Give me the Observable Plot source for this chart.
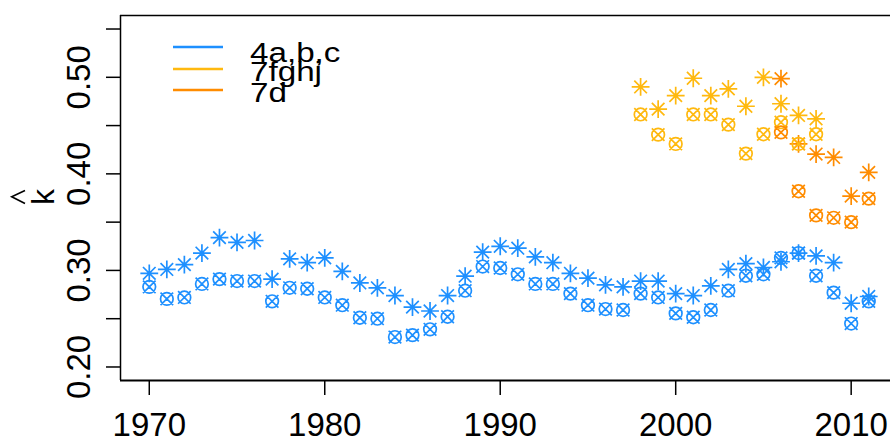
<!DOCTYPE html>
<html><head><meta charset="utf-8">
<script src="https://cdn.jsdelivr.net/npm/d3@7"></script>
<script src="https://cdn.jsdelivr.net/npm/@observablehq/plot@0.6"></script>
<style>body{margin:0;background:#fff} svg{display:block}</style>
</head><body><div id="chart"></div>
<script>
// ---- data ----
const years4abc = [1970,1971,1972,1973,1974,1975,1976,1977,1978,1979,1980,1981,1982,1983,1984,1985,1986,1987,1988,1989,1990,1991,1992,1993,1994,1995,1996,1997,1998,1999,2000,2001,2002,2003,2004,2005,2006,2007,2008,2009,2010,2011];
const k4abcStar = [0.297,0.301,0.306,0.318,0.334,0.329,0.331,0.291,0.312,0.308,0.313,0.299,0.287,0.282,0.274,0.262,0.258,0.274,0.294,0.319,0.325,0.323,0.314,0.308,0.297,0.292,0.285,0.283,0.289,0.289,0.276,0.274,0.284,0.301,0.307,0.303,0.309,0.318,0.315,0.308,0.266,0.273];
const k4abcCirc = [0.283,0.2705,0.272,0.286,0.291,0.289,0.289,0.268,0.282,0.281,0.272,0.264,0.251,0.250,0.231,0.233,0.239,0.252,0.279,0.304,0.3025,0.296,0.286,0.286,0.276,0.264,0.260,0.259,0.276,0.272,0.2555,0.2515,0.259,0.279,0.2945,0.296,0.313,0.318,0.2945,0.277,0.245,0.268];
const years7fghj = [1998,1999,2000,2001,2002,2003,2004,2005,2006,2007,2008];
const k7fghjStar = [0.490,0.467,0.481,0.499,0.481,0.488,0.470,0.500,0.4726,0.4605,0.457];
const k7fghjCirc = [0.4615,0.4406,0.431,0.4615,0.4615,0.451,0.421,0.441,0.4535,0.431,0.441];
const years7d = [2006,2007,2008,2009,2010,2011];
const k7dStar = [0.4986,0.431,0.4205,0.417,0.377,0.4015];
const k7dCirc = [0.443,0.382,0.357,0.3545,0.350,0.3744];

const seriesNames = ["4a,b,c","7fghj","7d"];
const seriesColors = ["#1E90FF","#FFB90F","#FF8C00"];
const xTicks = [1970,1980,1990,2000,2010];
const yTicks = [0.20,0.25,0.30,0.35,0.40,0.45,0.50,0.55];
const yLabelTicks = [0.20,0.30,0.40,0.50];
const yLim = [0.20,0.55];

// ---- build table ----
function rows(years, star, circ, name){
  return years.map((yr,i)=>({year:yr, star:star[i], circ:circ[i], series:name}));
}
const data = [
  ...rows(years4abc,k4abcStar,k4abcCirc,seriesNames[0]),
  ...rows(years7fghj,k7fghjStar,k7fghjCirc,seriesNames[1]),
  ...rows(years7d,k7dStar,k7dCirc,seriesNames[2])
];

// R-like 4% axis padding
const xmin = d3.min(years4abc), xmax = d3.max(years4abc);
const xpad = 0.04*(xmax-xmin);
const xDomain = [xmin-xpad, xmax+xpad];
const ypad = 0.04*(yLim[1]-yLim[0]);
const yDomain = [yLim[0]-ypad, yLim[1]+ypad];

// R pch 8 (asterisk) and pch 13 (circle with x)
const pch8 = {draw(ctx,size){
  const xc = Math.sqrt(size/Math.PI), s = xc*Math.SQRT2;
  ctx.moveTo(-xc,-xc); ctx.lineTo(xc,xc);
  ctx.moveTo(-xc,xc); ctx.lineTo(xc,-xc);
  ctx.moveTo(-s,0); ctx.lineTo(s,0);
  ctx.moveTo(0,-s); ctx.lineTo(0,s);
}};
const pch13 = {draw(ctx,size){
  const xc = Math.sqrt(size/Math.PI);
  ctx.moveTo(xc,0); ctx.arc(0,0,xc,0,2*Math.PI);
  ctx.moveTo(-xc,-xc); ctx.lineTo(xc,xc);
  ctx.moveTo(-xc,xc); ctx.lineTo(xc,-xc);
}};

const W = 890, H = 440, ML = 120, MT = 15, MB = 60;
const font = "'Liberation Sans', Arial, Helvetica, sans-serif";

const plot = Plot.plot({
  width: W, height: H,
  marginLeft: ML, marginTop: MT, marginBottom: MB, marginRight: 0,
  style: {fontFamily: font, color: "black", background: "white"},
  x: {domain: xDomain, range: [ML, ML + 777], label: null},
  y: {domain: yDomain, label: null},
  color: {domain: seriesNames, range: seriesColors},
  marks: [
    Plot.ruleY([yDomain[0]], {stroke: "black", strokeWidth: 1.8}),
    Plot.ruleY([yDomain[1]], {stroke: "black", strokeWidth: 1.5}),
    Plot.ruleX([xDomain[0]], {stroke: "black", strokeWidth: 1.5}),
    Plot.axisX({ticks: xTicks, tickSize: 15, tickPadding: 17, fontSize: 33, tickFormat: d => String(d), strokeWidth: 1.5, label: null}),
    Plot.axisY({ticks: yTicks, tickSize: 14, tickFormat: () => "", strokeWidth: 1.5, label: null}),
    Plot.axisY({ticks: yLabelTicks, tickSize: 0, tickRotate: -90, tickPadding: 31, fontSize: 33, tickFormat: d3.format(".2f"), label: null}),
    Plot.dot(data, {x: "year", y: "star", stroke: "series", fill: "none", symbol: pch8, r: 6.3, strokeWidth: 1.7}),
    Plot.dot(data, {x: "year", y: "circ", stroke: "series", fill: "none", symbol: pch13, r: 6.3, strokeWidth: 1.7})
  ]
});

const svg = d3.select(plot);
// legend
const lg = svg.append("g").attr("font-family", font).attr("font-size", 27).attr("text-anchor","start");
const lineY = [47, 69, 90], textY = [61.5, 81, 101.5];
seriesNames.forEach((n,i)=>{
  lg.append("line").attr("x1",173).attr("x2",223).attr("y1",lineY[i]).attr("y2",lineY[i])
    .attr("stroke",seriesColors[i]).attr("stroke-width",2.4);
  lg.append("text").attr("transform",`translate(250,${textY[i]}) scale(1.23,1)`)
    .attr("fill","black").text(n);
});
// y label: k-hat
svg.append("text").attr("transform","translate(54,197) rotate(-90)")
  .attr("text-anchor","middle").attr("font-family",font).attr("font-size",32).attr("fill","black").text("k");
svg.append("path").attr("d","M25,190.5L11.7,196.7L25,203.5").attr("fill","none").attr("stroke","black").attr("stroke-width",1.6);

document.getElementById("chart").appendChild(plot);
</script>
</body></html>
